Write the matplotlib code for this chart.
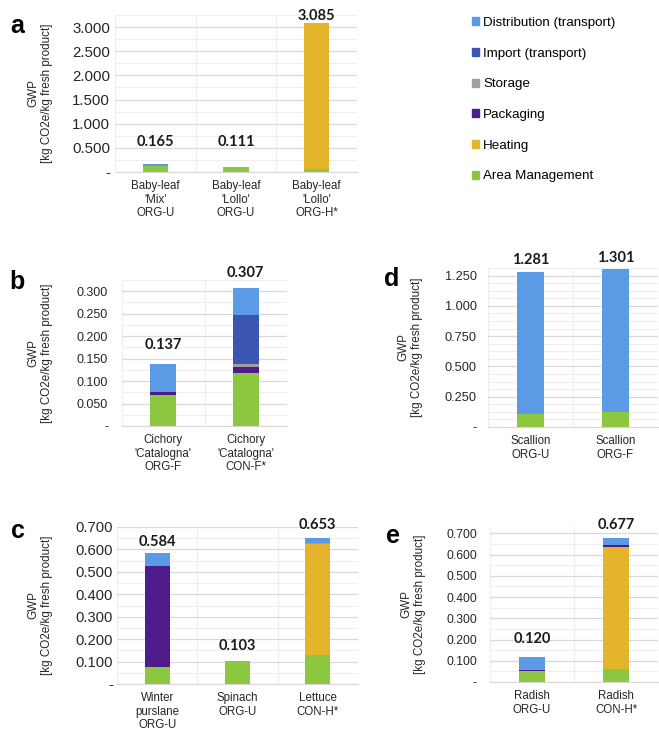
import matplotlib.pyplot as plt
import numpy as np
from matplotlib.ticker import MultipleLocator, FuncFormatter
from matplotlib.patches import Patch

# stack components, bottom to top
components = ['Area Management', 'Heating', 'Packaging', 'Storage',
              'Import (transport)', 'Distribution (transport)']
colors = ['#8DC63F', '#E4B42A', '#4F1C8C', '#A0A0A0', '#3A56B0', '#5B9BE5']

# panel a
a_labels = ["Baby-leaf\n'Mix'\nORG-U", "Baby-leaf\n'Lollo'\nORG-U", "Baby-leaf\n'Lollo'\nORG-H*"]
a_values = [[0.115, 0.111, 0.070],   # area management
            [0.0, 0.0, 3.015],       # heating
            [0.0, 0.0, 0.0],         # packaging
            [0.0, 0.0, 0.0],         # storage
            [0.0, 0.0, 0.0],         # import
            [0.050, 0.0, 0.0]]       # distribution
a_totals = [0.165, 0.111, 3.085]

# panel b
b_labels = ["Cichory\n'Catalogna'\nORG-F", "Cichory\n'Catalogna'\nCON-F*"]
b_values = [[0.070, 0.118],
            [0.0, 0.0],
            [0.006, 0.014],
            [0.0, 0.007],
            [0.0, 0.108],
            [0.061, 0.060]]
b_totals = [0.137, 0.307]

# panel c
c_labels = ["Winter\npurslane\nORG-U", "Spinach\nORG-U", "Lettuce\nCON-H*"]
c_values = [[0.077, 0.103, 0.131],
            [0.0, 0.0, 0.492],
            [0.451, 0.0, 0.0],
            [0.0, 0.0, 0.004],
            [0.0, 0.0, 0.0],
            [0.056, 0.0, 0.026]]
c_totals = [0.584, 0.103, 0.653]

# panel d
d_labels = ["Scallion\nORG-U", "Scallion\nORG-F"]
d_values = [[0.105, 0.124],
            [0.0, 0.0],
            [0.0, 0.0],
            [0.0, 0.0],
            [0.0, 0.0],
            [1.176, 1.177]]
d_totals = [1.281, 1.301]

# panel e
e_labels = ["Radish\nORG-U", "Radish\nCON-H*"]
e_values = [[0.050, 0.060],
            [0.0, 0.578],
            [0.005, 0.007],
            [0.0, 0.0],
            [0.0, 0.0],
            [0.065, 0.032]]
e_totals = [0.120, 0.677]

plt.rcParams['font.family'] = ['Liberation Sans', 'DejaVu Sans']

fig = plt.figure(figsize=(6.59, 7.31), dpi=100)
W, H = 659, 731


def make_axes(left, top, right, bottom):
    return fig.add_axes([left / W, 1 - bottom / H, (right - left) / W, (bottom - top) / H])


def fmt(v, pos):
    return '-' if abs(v) < 1e-9 else '{:.3f}'.format(v)


def panel(ax, labels, values, totals, ymax, major, minor, pads, ytick_size, ypad):
    x = np.arange(len(labels))
    bottom = np.zeros(len(labels))
    for vals, col in zip(values, colors):
        vals = np.array(vals)
        ax.bar(x, vals, 0.31, bottom=bottom, color=col, zorder=3)
        bottom += vals
    ax.set_xlim(-0.5, len(labels) - 0.5)
    ax.set_ylim(0, ymax)
    ax.yaxis.set_major_locator(MultipleLocator(major))
    ax.yaxis.set_minor_locator(MultipleLocator(minor))
    ax.yaxis.set_major_formatter(FuncFormatter(fmt))
    ax.set_xticks(x)
    ax.set_xticklabels(labels, fontsize=8.3, color='#262626', linespacing=1.15)
    ax.set_xticks(np.arange(len(labels) + 1) - 0.5, minor=True)
    ax.tick_params(axis='both', which='both', length=0)
    ax.tick_params(axis='y', labelsize=ytick_size, labelcolor='#262626', pad=ypad)
    ax.tick_params(axis='x', pad=6)
    ax.grid(True, which='major', axis='y', color='#d9d9d9', lw=0.9, zorder=0)
    ax.grid(True, which='minor', axis='y', color='#eeeeee', lw=0.8, zorder=0)
    ax.grid(True, which='minor', axis='x', color='#eeeeee', lw=0.8, zorder=0)
    for s in ['top', 'right', 'left']:
        ax.spines[s].set_visible(False)
    ax.spines['bottom'].set_color('#d9d9d9')
    for xi, t, p in zip(x, totals, pads):
        ax.annotate('{:.3f}'.format(t), xy=(xi, t), xytext=(0, p),
                    textcoords='offset points', ha='center', va='baseline',
                    fontsize=10.5, fontweight='bold', family='Lato', color='#1a1a1a')


def side_text(ax, xpix, letter, lx, ly):
    pos = ax.get_position()
    fig.text(xpix / W, pos.y0 + pos.height / 2, 'GWP\n[kg CO2e/kg fresh product]',
             rotation=90, ha='center', va='center', fontsize=8.4, color='#262626',
             linespacing=1.2)
    fig.text(lx / W, 1 - ly / H, letter, ha='center', va='center',
             fontsize=18, fontweight='bold', color='black')


ax_a = make_axes(115, 15, 357, 172)
panel(ax_a, a_labels, a_values, a_totals, 3.25, 0.5, 0.25, [13, 15, 2], 10.8, 3.6)
side_text(ax_a, 40, 'a', 17, 26)

ax_b = make_axes(122, 280, 287, 426)
panel(ax_b, b_labels, b_values, b_totals, 0.325, 0.05, 0.025, [11, 8], 9.0, 10)
side_text(ax_b, 40, 'b', 17, 282)

ax_d = make_axes(488, 268, 658, 427)
panel(ax_d, d_labels, d_values, d_totals, 1.3125, 0.25, 0.0625, [5.5, 5.5], 9.2, 8)
side_text(ax_d, 410, 'd', 392, 279)

ax_c = make_axes(117, 527, 358, 684)
panel(ax_c, c_labels, c_values, c_totals, 0.70, 0.1, 0.05, [5, 8, 6], 10.6, 3)
side_text(ax_c, 40, 'c', 18, 531)

ax_e = make_axes(490, 527, 658, 682)
panel(ax_e, e_labels, e_values, e_totals, 0.73, 0.1, 0.05, [9.5, 6.5], 8.7, 9.4)
side_text(ax_e, 413, 'e', 393, 536)

handles = [Patch(color=c, label=n) for n, c in zip(components, colors)][::-1]
fig.legend(handles=handles, loc='upper left', bbox_to_anchor=(472 / W, 1 - 17 / H),
           frameon=False, fontsize=9.6, handlelength=0.55, handleheight=0.55,
           handletextpad=0.3, labelspacing=1.4, borderpad=0, borderaxespad=0)

plt.savefig('out.png', dpi=100)
